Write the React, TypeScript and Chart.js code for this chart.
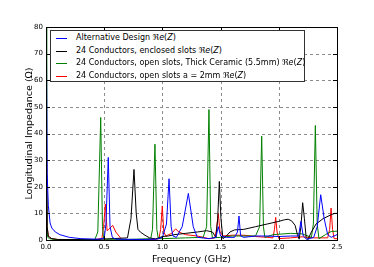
import React, { useEffect, useRef } from "react";
import { Chart, registerables } from "chart.js";

Chart.register(...registerables);

const xTicks = [0, 0.5, 1.0, 1.5, 2.0, 2.5];
const yTicks = [0, 10, 20, 30, 40, 50, 60, 70, 80];

const altFreq = [0, 0.004, 0.01, 0.02, 0.035, 0.05, 0.08, 0.12, 0.2, 0.3, 0.45, 0.5, 0.515, 0.535, 0.55, 0.57, 0.6, 0.8, 0.95, 1.0, 1.035, 1.057, 1.075, 1.09, 1.12, 1.17, 1.223, 1.265, 1.3, 1.4, 1.46, 1.48, 1.5, 1.55, 1.62, 1.645, 1.658, 1.672, 1.7, 1.8, 1.9, 2.0, 2.1, 2.17, 2.19, 2.21, 2.24, 2.3, 2.33, 2.36, 2.39, 2.42, 2.45, 2.5];
const altZ = [85, 72, 25, 13, 6.4, 4.5, 3, 2, 1, 0.5, 0.3, 0.6, 6, 31, 5, 1, 0.3, 0.2, 0.3, 1, 6, 23, 5, 1.5, 1, 5, 17.5, 5, 1, 0.5, 1, 5, 1.5, 1, 1, 3, 9, 1.5, 1, 1.5, 1.5, 1.3, 1.5, 1.5, 7, 1.5, 0.2, 1, 5, 17, 8, 2, 1, 2];

const enclosedFreq = [0, 0.004, 0.01, 0.02, 0.03, 0.05, 0.1, 0.4, 0.7, 0.73, 0.756, 0.775, 0.79, 0.81, 0.85, 0.89, 0.94, 0.97, 1.0, 1.05, 1.1, 1.2, 1.3, 1.38, 1.43, 1.46, 1.475, 1.489, 1.503, 1.52, 1.55, 1.58, 1.62, 1.7, 1.8, 1.9, 2.0, 2.05, 2.08, 2.11, 2.14, 2.16, 2.175, 2.19, 2.205, 2.22, 2.235, 2.25, 2.28, 2.32, 2.38, 2.45, 2.48, 2.5];
const enclosedZ = [90, 30, 5, 1.5, 1, 0.5, 0.2, 0.1, 0.8, 8, 26.5, 10, 4, 3, 1.8, 0.8, 0.4, 0.8, 1.3, 1.5, 2, 2.5, 3, 3.5, 3, 1, 8, 22, 8, 0.5, 1.5, 3, 3.8, 4, 5, 6, 7, 7.6, 7.8, 7.2, 5.5, 2, 0.3, 5, 14, 8, 1, 0.2, 3, 6, 8, 9.5, 10, 10];

const ceramicFreq = [0, 0.006, 0.015, 0.03, 0.1, 0.42, 0.445, 0.47, 0.485, 0.495, 0.52, 0.7, 0.9, 0.915, 0.936, 0.952, 0.965, 1.0, 1.2, 1.35, 1.38, 1.4, 1.415, 1.43, 1.5, 1.6, 1.8, 1.835, 1.853, 1.868, 1.88, 1.95, 2.1, 2.2, 2.28, 2.297, 2.314, 2.33, 2.345, 2.4, 2.45, 2.5];
const ceramicZ = [90, 5, 1, 0.5, 0.1, 0.2, 3, 46, 5, 0.5, 0.3, 0.2, 0.5, 4, 36, 4, 0.5, 0.5, 0.8, 1, 5, 49, 5, 0.8, 1, 1.5, 1.5, 5, 39, 5, 1, 2, 2.5, 2.3, 1, 6, 43, 6, 0.5, 2, 3.2, 3.3];

const openFreq = [0, 0.004, 0.01, 0.02, 0.05, 0.1, 0.4, 0.48, 0.495, 0.51, 0.525, 0.54, 0.573, 0.6, 0.65, 0.9, 0.97, 0.985, 0.999, 1.012, 1.03, 1.08, 1.114, 1.14, 1.2, 1.3, 1.4, 1.45, 1.465, 1.48, 1.495, 1.52, 1.6, 1.7, 1.8, 1.9, 1.95, 1.963, 1.973, 1.985, 2.0, 2.1, 2.2, 2.3, 2.42, 2.437, 2.449, 2.462, 2.475, 2.5];
const openZ = [90, 40, 5, 1.5, 0.5, 0.2, 0.1, 0.5, 5, 13.5, 3.5, 4, 5.5, 3, 0.2, 0.1, 0.5, 4, 12.8, 3, 1.5, 2.5, 4.2, 3, 2, 1.5, 0.5, 0.8, 4, 10, 3, 1.5, 1.8, 1.8, 1.3, 1, 0.8, 4, 8.5, 3, 0.5, 0.8, 1.2, 0.8, 0.8, 4, 12, 4, 0.5, 0.5];

const seriesLabels = [
  "Alternative Design",
  "24 Conductors, enclosed slots",
  "24 Conductors, open slots, Thick Ceramic (5.5mm)",
  "24 Conductors, open slots a = 2mm",
];
const seriesColors = ["#0000ff", "#000000", "#008000", "#ff0000"];

const toPts = (xs: number[], ys: number[]) => xs.map((x, i) => ({ x, y: ys[i] }));

const gridPlugin = {
  id: "dashgrid",
  beforeDatasetsDraw(chart: any) {
    const { ctx, chartArea: a, scales } = chart;
    ctx.save();
    ctx.strokeStyle = "#8c8c8c";
    ctx.lineWidth = 1;
    ctx.setLineDash([3, 3]);
    ctx.beginPath();
    xTicks.slice(1, -1).forEach((t) => {
      const px = Math.round(scales.x.getPixelForValue(t)) + 0.5;
      ctx.moveTo(px, a.bottom);
      ctx.lineTo(px, a.top);
    });
    yTicks.slice(1, -1).forEach((t) => {
      const py = Math.round(scales.y.getPixelForValue(t)) + 0.5;
      ctx.moveTo(a.left, py);
      ctx.lineTo(a.right, py);
    });
    ctx.stroke();
    ctx.restore();
  },
};

const framePlugin = {
  id: "frame",
  afterDatasetsDraw(chart: any) {
    const { ctx, chartArea: a, scales } = chart;
    ctx.save();
    ctx.strokeStyle = "#000";
    ctx.lineWidth = 1;
    ctx.setLineDash([]);
    ctx.beginPath();
    const tl = 4;
    xTicks.forEach((t) => {
      const px = Math.round(scales.x.getPixelForValue(t)) + 0.5;
      ctx.moveTo(px, a.bottom);
      ctx.lineTo(px, a.bottom - tl);
      ctx.moveTo(px, a.top);
      ctx.lineTo(px, a.top + tl);
    });
    yTicks.forEach((t) => {
      const py = Math.round(scales.y.getPixelForValue(t)) + 0.5;
      ctx.moveTo(a.left, py);
      ctx.lineTo(a.left + tl, py);
      ctx.moveTo(a.right, py);
      ctx.lineTo(a.right - tl, py);
    });
    ctx.stroke();
    ctx.strokeRect(Math.round(a.left) + 0.5, Math.round(a.top) + 0.5, Math.round(a.right - a.left), Math.round(a.bottom - a.top));
    ctx.restore();
  },
};

export default function App() {
  const ref = useRef<HTMLCanvasElement>(null);
  useEffect(() => {
    if (!ref.current) return;
    const data = [
      toPts(altFreq, altZ),
      toPts(enclosedFreq, enclosedZ),
      toPts(ceramicFreq, ceramicZ),
      toPts(openFreq, openZ),
    ];
    const chart = new Chart(ref.current, {
      type: "line",
      data: {
        datasets: data.map((d, i) => ({
          label: seriesLabels[i],
          data: d,
          borderColor: seriesColors[i],
          backgroundColor: seriesColors[i],
          borderWidth: 1,
          pointRadius: 0,
          tension: 0,
          fill: false,
        })),
      },
      options: {
        animation: false,
        responsive: false,
        devicePixelRatio: 1,
        layout: { padding: { top: 27, right: 37, left: 0, bottom: 0 } },
        plugins: { legend: { display: false }, tooltip: { enabled: false } },
        scales: {
          x: {
            type: "linear",
            min: 0,
            max: 2.5,
            afterFit: (s: any) => { s.height = 27; },
            afterBuildTicks: (s: any) => { s.ticks = xTicks.map((v) => ({ value: v })); },
            grid: { display: false, drawTicks: false },
            border: { display: false },
            ticks: {
              padding: 3,
              color: "#000",
              font: { family: "DejaVu Sans", size: 7 },
              callback: (v: any) => Number(v).toFixed(1),
              maxRotation: 0,
            },
            title: {
              display: true,
              text: "Frequency (GHz)",
              color: "#000",
              font: { family: "DejaVu Sans", size: 9.5 },
              padding: 2,
            },
          },
          y: {
            type: "linear",
            min: 0,
            max: 80,
            afterFit: (s: any) => { s.width = 46; },
            afterBuildTicks: (s: any) => { s.ticks = yTicks.map((v) => ({ value: v })); },
            grid: { display: false, drawTicks: false },
            border: { display: false },
            ticks: {
              padding: 3,
              color: "#000",
              font: { family: "DejaVu Sans", size: 7 },
              callback: (v: any) => String(v),
            },
            title: {
              display: true,
              text: "Longitudinal Impedance (Ω)",
              color: "#000",
              font: { family: "DejaVu Sans", size: 9.5 },
              padding: 24,
            },
          },
        },
      },
      plugins: [gridPlugin, framePlugin],
    } as any);
    return () => chart.destroy();
  }, []);

  const rowTops = [30, 43, 55.5, 68];
  return (
    <div style={{ position: "fixed", left: 0, top: 0, width: 374, height: 267, background: "#fff" }}>
      <canvas ref={ref} width={374} height={267} style={{ width: 374, height: 267, display: "block" }} />
      <div
        style={{
          position: "absolute",
          left: 50,
          top: 30,
          width: 253,
          height: 50,
          border: "1px solid #333",
          background: "#fff",
          fontFamily: "DejaVu Sans",
          fontSize: 8,
          color: "#000",
        }}
      >
        {seriesLabels.map((l, i) => (
          <div key={i} style={{ position: "absolute", left: 0, top: rowTops[i] - 30 + 0.5, height: 12, width: 253, whiteSpace: "nowrap" }}>
            <div style={{ position: "absolute", left: 5, top: 6, width: 11, height: 1, background: seriesColors[i] }} />
            <span style={{ position: "absolute", left: 25, top: 0, lineHeight: "12px" }}>
              {l} ℜ<i>e</i>(<i>Z</i>)
            </span>
          </div>
        ))}
      </div>
    </div>
  );
}
